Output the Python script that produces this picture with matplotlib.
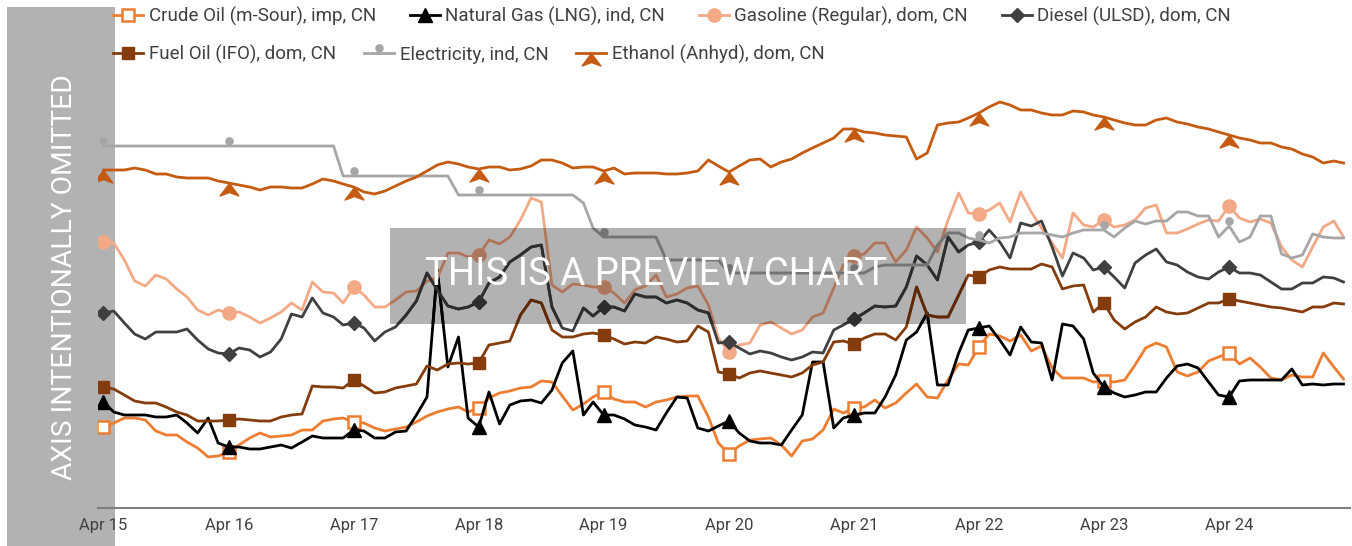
import numpy as np
import pandas as pd
import matplotlib
matplotlib.use('Agg')
import matplotlib.pyplot as plt
import matplotlib.dates as mdates
from matplotlib.path import Path
from matplotlib.patches import Rectangle
from matplotlib.colors import to_rgb

plt.rcParams['font.family'] = ['Roboto', 'DejaVu Sans']

# monthly observations, Apr 2015 - Mar 2025 (y axis units omitted in source)
months = pd.date_range('2015-04-01', periods=120, freq='MS')

crude = [173, 177, 182, 182, 180, 169, 165, 165, 158, 152,
         143, 144, 148, 155, 162, 167, 163, 164, 165, 170,
         170, 179, 181, 182, 178, 177, 172, 169, 171, 173,
         178, 184, 188, 191, 193, 188, 192, 202, 207, 209,
         212, 213, 219, 218, 204, 190, 196, 203, 208, 201,
         198, 198, 193, 198, 200, 203, 204, 204, 183, 157,
         146, 154, 160, 161, 162, 155, 144, 159, 161, 170,
         191, 187, 192, 193, 200, 192, 197, 207, 216, 203,
         202, 220, 236, 235, 253, 266, 264, 259, 265, 249,
         254, 232, 222, 222, 222, 218, 219, 218, 220, 235,
         252, 257, 253, 228, 224, 228, 239, 243, 247, 236,
         242, 233, 222, 220, 225, 223, 223, 247, 233, 221]

nat_gas = [198, 188, 185, 185, 185, 183, 183, 185, 177, 167,
           182, 157, 153, 153, 151, 151, 153, 155, 152, 158,
           164, 162, 162, 162, 170, 169, 162, 162, 168, 169,
           185, 203, 330, 233, 263, 182, 173, 208, 176, 195,
           199, 200, 197, 210, 237, 249, 185, 198, 185, 185,
           181, 175, 173, 170, 187, 203, 202, 172, 169, 174,
           179, 167, 159, 157, 157, 155, 170, 185, 238, 238,
           172, 182, 185, 187, 187, 203, 225, 260, 268, 287,
           215, 215, 247, 270, 272, 274, 260, 245, 273, 258,
           257, 220, 276, 274, 261, 227, 213, 207, 203, 205,
           208, 208, 222, 234, 236, 232, 218, 205, 203, 219,
           220, 220, 220, 220, 231, 215, 216, 215, 216, 216]

gasoline = [358, 357, 340, 319, 314, 325, 321, 311, 303, 290,
            285, 290, 287, 288, 283, 277, 282, 288, 297, 290,
            318, 308, 307, 297, 313, 305, 293, 293, 300, 308,
            309, 319, 322, 347, 347, 343, 345, 360, 356, 363,
            380, 402, 398, 315, 308, 316, 315, 313, 313, 307,
            297, 310, 314, 325, 303, 306, 312, 314, 295, 262,
            248, 255, 257, 275, 278, 272, 266, 270, 283, 287,
            312, 335, 344, 346, 357, 357, 338, 350, 373, 362,
            348, 380, 407, 387, 386, 390, 397, 378, 408, 388,
            372, 357, 342, 387, 375, 373, 380, 373, 375, 380,
            392, 395, 367, 367, 371, 376, 380, 379, 394, 382,
            378, 381, 377, 353, 340, 333, 353, 373, 379, 363]

diesel = [287, 289, 277, 266, 261, 268, 268, 268, 271, 260,
          251, 247, 246, 252, 250, 243, 248, 261, 286, 283,
          302, 287, 283, 275, 277, 272, 259, 268, 273, 285,
          299, 327, 310, 294, 291, 293, 298, 317, 323, 338,
          345, 353, 355, 293, 272, 269, 292, 284, 293, 293,
          289, 306, 303, 303, 297, 300, 297, 290, 287, 257,
          258, 252, 246, 249, 247, 243, 240, 243, 248, 247,
          270, 275, 281, 287, 294, 293, 294, 313, 344, 335,
          320, 363, 348, 355, 358, 370, 358, 342, 377, 374,
          379, 353, 324, 347, 342, 330, 333, 323, 312, 337,
          345, 351, 338, 335, 328, 323, 321, 328, 333, 327,
          327, 325, 318, 311, 311, 317, 317, 323, 322, 318]

fuel_oil = [213, 211, 205, 199, 197, 197, 193, 188, 185, 179,
            179, 179, 180, 181, 180, 179, 179, 183, 185, 186,
            214, 213, 213, 212, 220, 214, 207, 208, 212, 214,
            216, 234, 230, 236, 237, 236, 237, 255, 257, 259,
            285, 300, 297, 270, 263, 263, 266, 267, 265, 261,
            256, 258, 257, 263, 261, 258, 259, 274, 268, 228,
            226, 222, 227, 229, 227, 225, 223, 227, 235, 238,
            258, 259, 256, 262, 266, 266, 260, 273, 313, 285,
            283, 283, 305, 325, 323, 330, 333, 331, 331, 331,
            336, 333, 311, 314, 315, 288, 297, 280, 271, 278,
            283, 293, 288, 286, 287, 292, 297, 297, 301, 299,
            297, 295, 293, 292, 290, 288, 293, 293, 297, 296]

electricity = [454, 454, 454, 454, 454, 454, 454, 454, 454, 454,
               454, 454, 454, 454, 454, 454, 454, 454, 454, 454,
               454, 454, 454, 424, 424, 424, 424, 424, 424, 424,
               424, 424, 424, 424, 405, 405, 405, 405, 405, 405,
               405, 405, 405, 405, 405, 405, 397, 372, 363, 363,
               363, 363, 363, 363, 340, 340, 340, 340, 340, 340,
               327, 327, 327, 327, 327, 327, 327, 327, 327, 327,
               327, 327, 327, 327, 333, 335, 335, 335, 335, 335,
               355, 367, 367, 362, 360, 357, 362, 363, 367, 367,
               367, 365, 363, 367, 370, 370, 370, 363, 372, 379,
               376, 379, 379, 388, 388, 384, 384, 363, 374, 358,
               363, 384, 384, 346, 342, 345, 366, 363, 362, 362]

ethanol = [430, 430, 430, 432, 430, 426, 426, 423, 422, 422,
           422, 419, 417, 415, 413, 410, 413, 413, 412, 412,
           416, 421, 419, 416, 413, 408, 406, 409, 414, 419,
           423, 429, 435, 438, 436, 433, 431, 433, 433, 430,
           431, 434, 440, 440, 437, 432, 433, 433, 429, 432,
           426, 427, 427, 427, 426, 426, 427, 429, 440, 434,
           428, 434, 440, 441, 433, 438, 441, 447, 452, 457,
           462, 471, 471, 468, 467, 465, 464, 463, 441, 447,
           475, 477, 478, 482, 487, 493, 498, 495, 490, 490,
           487, 485, 485, 489, 488, 485, 483, 480, 477, 475,
           475, 480, 482, 478, 476, 473, 471, 468, 465, 462,
           460, 457, 457, 453, 451, 446, 443, 437, 439, 437]

labels = ['Crude Oil (m-Sour), imp, CN', 'Natural Gas (LNG), ind, CN',
          'Gasoline (Regular), dom, CN', 'Diesel (ULSD), dom, CN',
          'Fuel Oil (IFO), dom, CN', 'Electricity, ind, CN',
          'Ethanol (Anhyd), dom, CN']

# marker shapes that sit off the line (dot above, arrowhead hanging below)
dot_up = Path.circle((0, 1.45), 1.0)
arrow_down = Path([(0, 0), (0.75, -1), (0, -0.72), (-0.75, -1), (0, 0)],
                  [Path.MOVETO, Path.LINETO, Path.LINETO, Path.LINETO, Path.CLOSEPOLY])

styles = [
    dict(color='#ED7D31', marker='s', markersize=8, markerfacecolor='white', markeredgewidth=1.8),
    dict(color='#000000', marker='^', markersize=10),
    dict(color='#F3A886', marker='o', markersize=9.5),
    dict(color='#404040', marker='D', markersize=7),
    dict(color='#843C0C', marker='s', markersize=9),
    dict(color='#A6A6A6', marker=dot_up, markersize=12.5),
    dict(color='#C55A11', marker=arrow_down, markersize=18),
]
data = [crude, nat_gas, gasoline, diesel, fuel_oil, electricity, ethanol]

W, H = 1352, 546
fig = plt.figure(figsize=(W / 100, H / 100), dpi=100)
ax = fig.add_axes([98 / W, 1 - 508 / H, (1350 - 98) / W, (508 - 90) / H])
ax.patch.set_visible(False)

# grey placeholder band and preview box behind the lines
fig.add_artist(Rectangle((7 / W, 0), (115 - 7) / W, (546 - 7) / H, transform=fig.transFigure,
                         facecolor='#B2B2B2', edgecolor='none', zorder=-2))
box = Rectangle((390 / W, 1 - 324 / H), (966 - 390) / W, (324 - 228) / H, transform=fig.transFigure,
                facecolor='#B2B2B2', edgecolor='none', zorder=-2)
fig.add_artist(box)
clip_box = Rectangle((390 / W, 1 - 324 / H), (966 - 390) / W, (324 - 228) / H,
                     transform=fig.transFigure)

handles = []
for vals, lab, st in zip(data, labels, styles):
    ln, = ax.plot(months, vals, lw=2, markevery=12, label=lab, **st)
    handles.append(ln)
    # darker copy inside the preview box, imitating a multiply blend
    dark = tuple(c * 0.7 for c in to_rgb(st['color']))
    st2 = dict(st)
    st2['color'] = dark
    if st2.get('markerfacecolor') == 'white':
        st2['markerfacecolor'] = (0.7, 0.7, 0.7)
    ln2, = ax.plot(months, vals, lw=2, markevery=12, **st2)
    ln2.set_clip_path(clip_box)

ax.set_xlim(pd.Timestamp('2015-03-16'), pd.Timestamp('2025-03-20'))
ax.set_ylim(92, 510)
ax.xaxis.set_major_locator(mdates.MonthLocator(bymonth=4))
ax.xaxis.set_major_formatter(mdates.DateFormatter('%b %y'))
ax.tick_params(axis='x', length=0, pad=7, labelsize=12, labelcolor='#404040')
ax.set_yticks([])
for s in ['top', 'right', 'left']:
    ax.spines[s].set_visible(False)
ax.spines['bottom'].set_color('#7F7F7F')
ax.spines['bottom'].set_linewidth(1.5)

leg_kw = dict(loc='upper left', frameon=False, fontsize=13.5, handlelength=1.6,
              handletextpad=0.3, columnspacing=1.8, borderpad=0, borderaxespad=0,
              labelcolor='#404040')
leg1 = fig.legend(handles[:4], labels[:4], ncol=4, bbox_to_anchor=(113 / W, 1 - 7 / H), **leg_kw)
leg2 = fig.legend(handles[4:], labels[4:], ncol=3, bbox_to_anchor=(113 / W, 1 - 45 / H),
                  **dict(leg_kw, columnspacing=1.5))

fig.text(72 / W, 1 - 277 / H, 'AXIS INTENTIONALLY OMITTED', rotation=90, rotation_mode='anchor',
         ha='center', va='baseline', color='white', fontsize=20.3)
fig.text(656 / W, 1 - 285 / H, 'THIS IS A PREVIEW CHART', ha='center', va='baseline',
         color='white', fontsize=27.5, zorder=5)

fig.savefig('out.png', dpi=100)
